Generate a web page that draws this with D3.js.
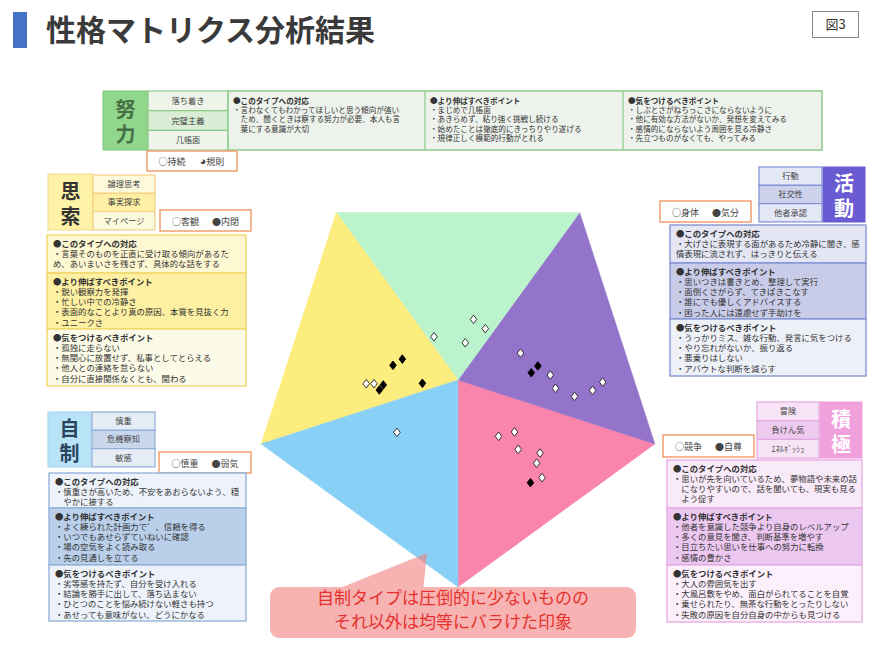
<!DOCTYPE html>
<html><head><meta charset="utf-8">
<script src="https://cdn.jsdelivr.net/npm/d3@7"></script>
<style>
body{margin:0;background:#fff;}
svg{display:block;font-family:"Noto Sans CJK JP","Noto Sans",sans-serif;}
</style>
</head><body>
<svg id="c" width="874" height="650"></svg>
<script>
// ---------- DATA ----------
// sectors ordered counter-clockwise starting from the bottom vertex
const sectorNames = ["積極","活動","努力","思索","自制"];
// open (white) diamonds, data space: centre = 0, vertex radius = 100
const openX = [-11.6, 7.5, 13.2, 3.5, -44.3, -40.6, 30.2, 44.6, 47.1, 56.3, 65.0, 69.9, -29.5, 19.6, 27.3, 29.1, 39.6, 38.0, 40.6];
const openY = [20.9, 29.3, 24.8, 18.0, -1.8, -1.8, 13.0, 2.4, -4.0, -7.9, -5.0, -1.0, -25.3, -27.2, -25.1, -33.5, -35.3, -40.2, -47.2];
// solid (black) diamonds
const solidX = [-26.9, -31.4, -36.1, -38.0, -17.2, 38.6, 35.4, 35.0];
const solidY = [10.1, 7.1, -2.4, -4.8, -1.6, 6.8, 3.5, -49.6];

const titleText = "性格マトリクス分析結果";
const figLabel = "図3";

const effortTraits = ["落ち着き","完璧主義","几帳面"];
const effortLegend = [["○","持続"],["◕","規則"]];
const effortCols = [
  ["●このタイプへの対応","・言わなくてもわかってほしいと思う傾向が強い","　ため、聞くときは察する努力が必要、本人も言","　葉にする意識が大切"],
  ["●より伸ばすべきポイント","・まじめで几帳面","・あきらめず、粘り強く挑戦し続ける","・始めたことは徹底的にきっちりやり遂げる","・規律正しく模範的行動がとれる"],
  ["●気をつけるべきポイント","・しぶとさがねちっこさにならないように","・他に有効な方法がないか、発想を変えてみる","・感情的にならないよう周囲を見る冷静さ","・先立つものがなくても、やってみる"]
];

const thinkTraits = ["論理思考","事実探求","マイページ"];
const thinkLegend = [["○","客観"],["●","内閉"]];
const thinkPanels = [
  ["●このタイプへの対応","・言葉そのものを正直に受け取る傾向があるた","め、あいまいさを残さず、具体的な話をする"],
  ["●より伸ばすべきポイント","・鋭い観察力を発揮","・忙しい中での冷静さ","・表面的なことより真の原因、本質を見抜く力","・ユニークさ"],
  ["●気をつけるべきポイント","・孤独に走らない","・無関心に放置せず、私事としてとらえる","・他人との連絡を怠らない","・自分に直接関係なくとも、関わる"]
];

const controlTraits = ["慎重","危機察知","敏感"];
const controlLegend = [["○","慎重"],["●","弱気"]];
const controlPanels = [
  ["●このタイプへの対応","・慎重さが高いため、不安をあおらないよう、穏","　やかに接する"],
  ["●より伸ばすべきポイント","・よく練られた計画力で゛、信頼を得る","・いつでもあせらずていねいに確認","・場の空気をよく読み取る","・先の見通しを立てる"],
  ["●気をつけるべきポイント","・劣等感を持たず、自分を受け入れる","・結論を勝手に出して、落ち込まない","・ひとつのことを悩み続けない軽さも持つ","・あせっても意味がない、どうにかなる"]
];

const activeTraits = ["行動","社交性","他者承認"];
const activeLegend = [["○","身体"],["●","気分"]];
const activePanels = [
  ["●このタイプへの対応","・大げさに表現する面があるため冷静に聞き、感","情表現に流されず、はっきりと伝える"],
  ["●より伸ばすべきポイント","・思いつきは書きとめ、整理して実行","・面倒くさがらず、てきぱきこなす","・誰にでも優しくアドバイスする","・困った人には遠慮せず手助けを"],
  ["●気をつけるべきポイント","・うっかりミス、雑な行動、発言に気をつける","・やり忘れがないか、振り返る","・悪乗りはしない","・アバウトな判断を減らす"]
];

const posTraits = ["冒険","負けん気","ｴﾈﾙｷﾞｯｼｭ"];
const posLegend = [["○","競争"],["●","自尊"]];
const posPanels = [
  ["●このタイプへの対応","・思いが先を向いているため、夢物語や未来の話","　になりやすいので、話を聞いても、現実も見る","　よう促す"],
  ["●より伸ばすべきポイント","・他者を意識した競争より自身のレベルアップ","・多くの意見を聞き、判断基準を増やす","・目立ちたい思いを仕事への努力に転換","・感情の豊かさ"],
  ["●気をつけるべきポイント","・大人の雰囲気を出す","・大風呂敷をやめ、面白がられてることを自覚","・乗せられたり、無茶な行動をとったりしない","・失敗の原因を自分自身の中からも見つける"]
];

const calloutLines = ["自制タイプは圧倒的に少ないものの","それ以外は均等にバラけた印象"];

// ---------- STYLE ----------
const sectorColors = {"積極":"#f984ac","活動":"#9474cb","努力":"#baf3cc","思索":"#fdec7e","自制":"#88d0f6"};

const svg = d3.select("#c");

// Title
svg.append("rect").attr("x",13).attr("y",12).attr("width",14).attr("height",36).attr("fill","#4472c4");
svg.append("text").attr("x",46).attr("y",41).attr("font-size",30).attr("font-weight",700)
  .attr("fill","#3a3a3a").text(titleText);
svg.append("rect").attr("x",812.5).attr("y",11.5).attr("width",46).attr("height",26)
  .attr("fill","#fff").attr("stroke","#888");
svg.append("text").attr("x",835.5).attr("y",29).attr("text-anchor","middle").attr("font-size",13)
  .attr("fill","#333").text(figLabel);

// helpers
function rect(x,y,w,h,fill,stroke,sw){
  return svg.append("rect").attr("x",x).attr("y",y).attr("width",w).attr("height",h)
    .attr("fill",fill).attr("stroke",stroke||"none").attr("stroke-width",sw||1);
}
function textBlock(x,y,lines,fs,lh,color){
  lines.forEach((l,i)=>{
    svg.append("text").attr("x",x).attr("y",y+i*lh)
      .attr("font-weight", i===0?700:400)
      .attr("font-size", fs)
      .attr("fill",color||"#333")
      .text(l);
  });
}
function label(x,y,w,h,fill,stroke,txt,color){
  rect(x,y,w,h,fill,stroke,1);
  svg.append("text").attr("x",x+w/2).attr("y",y+h/2+4)
    .attr("writing-mode","vertical-rl").attr("text-anchor","middle")
    .attr("letter-spacing",5)
    .attr("font-size",20).attr("font-weight",700).attr("fill",color).text(txt);
}
function traits(x,y,w,rowH,list,fills,stroke){
  list.forEach((t,i)=>{
    rect(x,y+i*rowH,w,rowH,fills[i],stroke,1.2);
    svg.append("text").attr("x",x+w/2).attr("y",y+i*rowH+rowH/2+3).attr("text-anchor","middle")
      .attr("font-size",8.2).attr("fill","#444").text(t);
  });
}
function legend(x,y,w,h,items){
  rect(x,y,w,h,"#fff","#f0a070",1.5);
  items.forEach((t,i)=>{
    const tx = svg.append("text").attr("x",x+w/2-20+i*40).attr("y",y+h/2+4).attr("text-anchor","middle")
      .attr("font-size",9).attr("fill","#444");
    tx.append("tspan").attr("font-size",t[0]==="◕"?11:9).text(t[0]);
    tx.append("tspan").text(t[1]);
  });
}
function panels(x,y,w,hs,texts,fills,stroke){
  let yy=y;
  hs.forEach((h,i)=>{
    rect(x,yy,w,h,fills[i],stroke,1.3);
    textBlock(x+6,yy+11.5,texts[i],8.4,10.3,"#333");
    yy+=h;
  });
}

// ---------- 努力 (top) ----------
label(103,91,45,59,"#90d68c","#7cc67a","努力","#456f45");
traits(148,91,80,19.7,effortTraits,["#eef4ea","#d9ecd4","#eef4ea"],"#8ccb88");
rect(228,91,594,59,"#eef2ec","#8ccb88",1.5);
[425,623].forEach(xv=>svg.append("line").attr("x1",xv).attr("x2",xv).attr("y1",91).attr("y2",150)
  .attr("stroke","#8ccb88").attr("stroke-width",1.2));
[233,430,628].forEach((xv,i)=>{
  effortCols[i].forEach((l,j)=>{
    svg.append("text").attr("x",xv).attr("y",103.5+j*9.4).attr("font-size",7.6)
      .attr("fill","#333").attr("font-weight",j===0?700:400).text(l);
  });
});
legend(147,151,90,20,effortLegend);

// ---------- 思索 (upper left) ----------
label(48,174,45,56,"#fdf2a6","#f5d890","思索","#333");
traits(93,175,62,18.3,thinkTraits,["#fdf9dc","#fdf0a4","#fdf9dc"],"#f5cf82");
legend(160,210,91,21,thinkLegend);
panels(47,235,199,[38,56,57],thinkPanels,["#fdf8d2","#fdf0a2","#fbfbe8"],"#f2d466");

// ---------- 自制 (lower left) ----------
label(48,412,43,55,"#b9e4f8","#a8d4ee","自制","#2a4560");
traits(92,412,63,18.3,controlTraits,["#e6ecf6","#c9d7ec","#e6ecf6"],"#8fb0d8");
legend(159,452,92,21,controlLegend);
panels(49,473,197,[35,57,56],controlPanels,["#eef2fa","#b9cfea","#eef2fa"],"#8fb0d8");

// ---------- 活動 (upper right) ----------
label(823,167,42,55,"#6b5bd2","#6b5bd2","活動","#fff");
traits(759,167,63,18.3,activeTraits,["#e4e7f5","#ccd1ec","#e4e7f5"],"#7f8fd4");
legend(660,201,91,21,activeLegend);
panels(670,225,196,[38,56,57],activePanels,["#e4e6f4","#c8cce8","#eef0f8"],"#7f8fd4");

// ---------- 積極 (lower right) ----------
label(820,402,42,56,"#f0a0dc","#f0a0dc","積極","#fff");
traits(757,402,62,18.7,posTraits,["#f6e4f6","#edcaee","#f6e4f6"],"#e6a8e2");
legend(663,435,91,22,posLegend);
panels(667,460,195,[48,57,57],posPanels,["#f8eaf8","#ecc8f0","#fbf0fb"],"#e6a8e2");

// ---------- Pentagon ----------
const cx = 458, cy = 380, R = 207;
const xs = d3.scaleLinear().domain([-100,100]).range([cx-R, cx+R]);
const ys = d3.scaleLinear().domain([-100,100]).range([cy+R, cy-R]);
const ang = k => (-90 + 72*k) * Math.PI/180;
const vtx = k => [xs(100*Math.cos(ang(k))), ys(100*Math.sin(ang(k)))];
const pg = svg.append("g");
sectorNames.forEach((n,k)=>{
  const p = [[xs(0),ys(0)], vtx(k), vtx(k+1)];
  pg.append("path").attr("d","M"+p.map(d=>d.join(",")).join("L")+"Z")
    .attr("fill",sectorColors[n]).attr("stroke",sectorColors[n]).attr("stroke-width",0.5);
});

// ---------- Callout ----------
const cg = svg.append("g").attr("opacity",0.6);
cg.append("path").attr("d","M330,592L427,553L423,592Z").attr("fill","#f28080");
cg.append("rect").attr("x",270).attr("y",587).attr("width",366).attr("height",51).attr("rx",9)
  .attr("fill","#f28080");
calloutLines.forEach((l,i)=>{
  svg.append("text").attr("x",453).attr("y",604+i*23.5).attr("text-anchor","middle")
    .attr("font-size",17).attr("fill","#e5322e").text(l);
});

// ---------- Diamonds ----------
const diamond = "M0,-4.3L3.3,0L0,4.3L-3.3,0Z";
const dg = svg.append("g");
d3.range(openX.length).forEach(i=>{
  dg.append("path").attr("d",diamond).attr("transform",`translate(${xs(openX[i])},${ys(openY[i])})`)
    .attr("fill","#fff").attr("stroke","#222").attr("stroke-width",0.9);
});
d3.range(solidX.length).forEach(i=>{
  dg.append("path").attr("d",diamond).attr("transform",`translate(${xs(solidX[i])},${ys(solidY[i])})`)
    .attr("fill","#000").attr("stroke","#000").attr("stroke-width",0.9);
});
</script>
</body></html>
